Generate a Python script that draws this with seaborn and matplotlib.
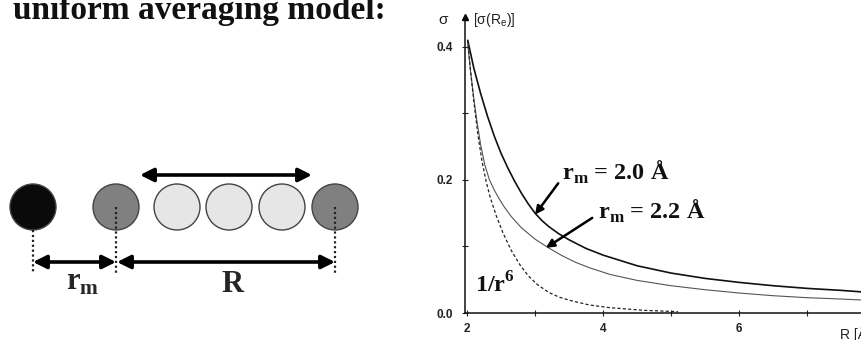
import matplotlib
matplotlib.use("Agg")
import matplotlib.pyplot as plt
from matplotlib.patches import Circle
from matplotlib.ticker import MultipleLocator, FormatStrFormatter
import seaborn as sns
import pandas as pd

# ---------------- data ----------------
R_rm20 = [2.01, 2.10, 2.20, 2.30, 2.40, 2.50, 2.60, 2.70, 2.80, 2.90, 3.00, 3.10, 3.20,
          3.35, 3.50, 3.75, 4.00, 4.50, 5.00, 5.50, 6.00, 6.50, 7.00, 7.50, 7.90]
sig_rm20 = [0.410, 0.368, 0.330, 0.296, 0.266, 0.240, 0.218, 0.198, 0.180, 0.164, 0.150,
            0.139, 0.130, 0.119, 0.110, 0.097, 0.087, 0.071, 0.060, 0.052, 0.046, 0.041,
            0.037, 0.034, 0.031]

R_rm22 = [2.01, 2.05, 2.10, 2.15, 2.20, 2.26, 2.33, 2.40, 2.47, 2.55, 2.65, 2.80, 3.00,
          3.18, 3.40, 3.60, 3.80, 4.10, 4.50, 5.00, 5.50, 6.00, 6.50, 7.00, 7.50, 7.90]
sig_rm22 = [0.405, 0.365, 0.322, 0.285, 0.253, 0.223, 0.200, 0.185, 0.172, 0.159, 0.145,
            0.128, 0.111, 0.099, 0.086, 0.076, 0.068, 0.058, 0.049, 0.041, 0.035, 0.030,
            0.026, 0.023, 0.021, 0.019]

R_r6 = [2.01, 2.05, 2.10, 2.16, 2.22, 2.28, 2.34, 2.43, 2.53, 2.65, 2.78, 2.90, 3.03,
        3.20, 3.35, 3.51, 3.80, 4.10, 4.60, 5.10]
sig_r6 = [0.410, 0.365, 0.318, 0.268, 0.228, 0.198, 0.174, 0.146, 0.120, 0.094, 0.072,
          0.056, 0.043, 0.031, 0.024, 0.019, 0.012, 0.008, 0.004, 0.002]

x_ticks = [2, 4, 6]
y_ticks = [0.0, 0.2, 0.4]
title_text = "uniform averaging model:"
label_rm20 = r"r$_{\mathbf{m}}$ = 2.0 Å"
label_rm22 = r"r$_{\mathbf{m}}$ = 2.2 Å"
label_r6 = r"1/r$^{\mathbf{6}}$"

# diagram (schematic) atoms: centres in diagram units
atom_x = [33, 116, 177, 229, 282, 335]
atom_colors = ["#0a0a0a", "#808080", "#e6e6e6", "#e6e6e6", "#e6e6e6", "#808080"]

# ---------------- style ----------------
sns.set_theme(style="white")
plt.rcParams["font.family"] = ["Liberation Sans", "DejaVu Sans"]
plt.rcParams["mathtext.fontset"] = "custom"
plt.rcParams["mathtext.bf"] = "Liberation Serif:bold"
plt.rcParams["mathtext.rm"] = "Liberation Serif"
plt.rcParams["mathtext.sf"] = "Liberation Sans"

W, H = 861, 340
fig = plt.figure(figsize=(W / 100, H / 100), dpi=100)

# ---------------- left: schematic ----------------
axL = fig.add_axes([0, 0, 420 / W, 1])
axL.set_xlim(0, 420)
axL.set_ylim(340, 0)
axL.set_aspect("equal")
axL.axis("off")

axL.text(13, 19, title_text, fontfamily="Liberation Serif", fontweight="bold",
         fontsize=24, ha="left", va="baseline", color="#111111")

cy, rad = 207, 23
for x, c in zip(atom_x, atom_colors):
    axL.add_patch(Circle((x, cy), rad, facecolor=c, edgecolor="#444444", lw=1.0, zorder=2))

dot_kw = dict(color="#222222", lw=1.6, linestyle=(0, (1, 1.2)), zorder=3)
axL.plot([atom_x[0], atom_x[0]], [cy + rad, 273], **dot_kw)
axL.plot([atom_x[1], atom_x[1]], [cy, 273], **dot_kw)
axL.plot([atom_x[5], atom_x[5]], [cy, 273], **dot_kw)

arr_kw = dict(arrowstyle="<|-|>", lw=2.6, color="black", mutation_scale=20, shrinkA=0, shrinkB=0)
axL.annotate("", xy=(atom_x[1], 262), xytext=(atom_x[0], 262), arrowprops=arr_kw)
axL.annotate("", xy=(atom_x[5], 262), xytext=(atom_x[1] + 1, 262), arrowprops=arr_kw)
axL.annotate("", xy=(312, 175), xytext=(140, 175), arrowprops=arr_kw)

axL.text(66, 290, r"r$_{\mathbf{m}}$", fontfamily="Liberation Serif", fontweight="bold",
         fontsize=22, ha="left", va="baseline")
axL.text(232, 292, "R", fontfamily="Liberation Serif", fontweight="bold",
         fontsize=22, ha="center", va="baseline")

# ---------------- right: chart ----------------
axR = fig.add_axes([465 / W, 27 / H, 396 / W, 296 / H])
axR.set_facecolor("none")

df20 = pd.DataFrame({"R": R_rm20, "sigma": sig_rm20})
df22 = pd.DataFrame({"R": R_rm22, "sigma": sig_rm22})
df6 = pd.DataFrame({"R": R_r6, "sigma": sig_r6})

sns.lineplot(data=df20, x="R", y="sigma", ax=axR, color="#111111", lw=1.2,
             sort=False, estimator=None)
sns.lineplot(data=df22, x="R", y="sigma", ax=axR, color="#555555", lw=0.8,
             sort=False, estimator=None)
sns.lineplot(data=df6, x="R", y="sigma", ax=axR, color="#222222", lw=0.9,
             sort=False, estimator=None, linestyle=(0, (2.5, 1.8)))

axR.set_xlim(1.97, 7.79)
axR.set_ylim(0, 0.445)
axR.set_xlabel("")
axR.set_ylabel("")
for s in ["top", "right"]:
    axR.spines[s].set_visible(False)
for s in ["left", "bottom"]:
    axR.spines[s].set_color("#111111")
    axR.spines[s].set_linewidth(1.1)

axR.set_xticks(x_ticks)
axR.set_yticks(y_ticks)
axR.xaxis.set_minor_locator(MultipleLocator(1))
axR.yaxis.set_minor_locator(MultipleLocator(0.1))
axR.yaxis.set_major_formatter(FormatStrFormatter("%.1f"))
axR.tick_params(which="both", direction="inout", color="#222222", width=0.8,
                left=True, bottom=True)
axR.tick_params(which="major", length=5)
axR.tick_params(which="minor", length=4)
axR.tick_params(axis="x", pad=5, labelsize=8.5)
axR.tick_params(axis="y", pad=6, labelsize=8.5)
for lab in axR.get_xticklabels() + axR.get_yticklabels():
    lab.set_fontweight("bold")
    lab.set_color("#222222")

# arrow head on y axis
axR.plot([0], [1], marker="^", color="black", ms=5, transform=axR.transAxes, clip_on=False)

fig.text(443 / W, 1 - 20 / H, "σ", ha="center", va="center", fontsize=11, color="#222222")
fig.text(473 / W, 1 - 20 / H, r"[σ(R$_{\mathsf{e}}$)]", ha="left", va="center",
         fontsize=10, color="#222222")
fig.text(840 / W, 1 - 334 / H, "R [Å]", ha="left", va="center", fontsize=10,
         color="#222222")

# annotations
ann_font = dict(fontfamily="Liberation Serif", fontweight="bold", fontsize=17.5, color="#111111")
axR.text(3.40, 0.212, label_rm20, ha="left", va="center", **ann_font)
axR.text(3.93, 0.152, label_rm22, ha="left", va="center", **ann_font)
axR.text(2.12, 0.042, label_r6, ha="left", va="center", fontfamily="Liberation Serif",
         fontweight="bold", fontsize=17.5, color="#111111")

ptr = dict(arrowstyle="-|>", lw=1.8, color="black", mutation_scale=12, shrinkA=0, shrinkB=0)
axR.annotate("", xy=(3.0, 0.148), xytext=(3.34, 0.195), arrowprops=ptr)
axR.annotate("", xy=(3.16, 0.098), xytext=(3.84, 0.143), arrowprops=ptr)

fig.savefig("out.png", dpi=100)
